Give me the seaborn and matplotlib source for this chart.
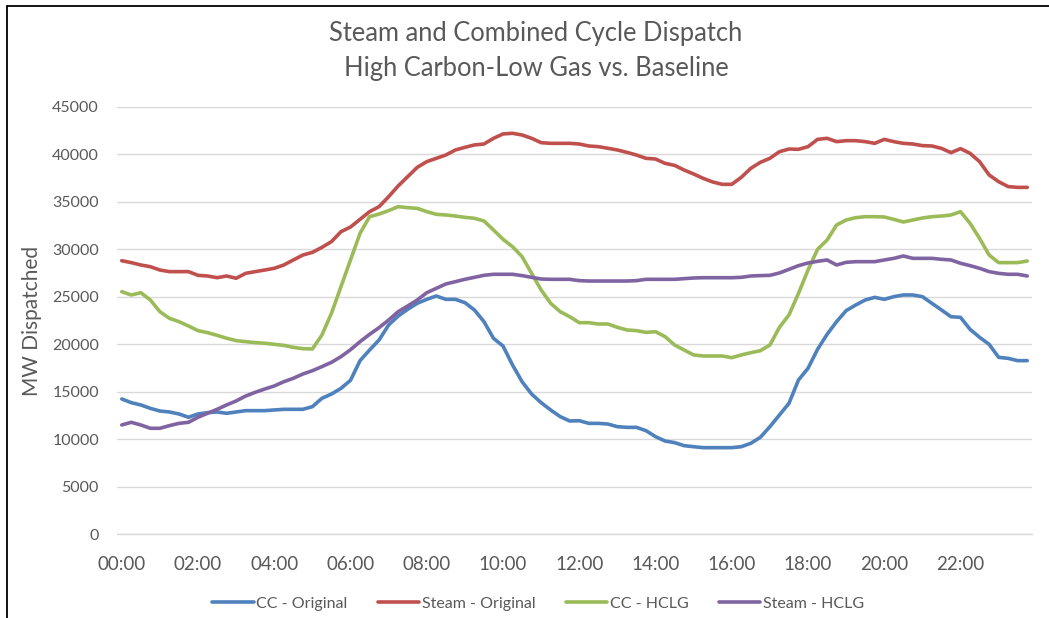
import numpy as np
import pandas as pd
import matplotlib
matplotlib.use("Agg")
import matplotlib.pyplot as plt
import seaborn as sns
from matplotlib.lines import Line2D

# ---------------- data (15-minute intervals, 00:00 .. 23:45) ----------------
hours = np.arange(96) * 0.25

cc_original = [
    14230, 13840, 13600, 13240, 12960, 12860, 12650, 12300, 12650, 12790, 12860, 12720,
    12860, 13000, 13000, 13000, 13070, 13140, 13140, 13140, 13420, 14300, 14750, 15350,
    16200, 18270, 19390, 20450, 22030, 22970, 23680, 24310, 24730, 25080, 24730, 24730,
    24380, 23610, 22380, 20620, 19810, 17810, 16050, 14750, 13840, 13070, 12370, 11910,
    11940, 11660, 11660, 11590, 11310, 11240, 11240, 10890, 10260, 9800, 9630, 9310,
    9200, 9100, 9100, 9100, 9100, 9200, 9560, 10190, 11310, 12540, 13770, 16230,
    17460, 19460, 21040, 22380, 23540, 24130, 24660, 24940, 24730, 25010, 25190, 25190,
    25010, 24310, 23610, 22900, 22830, 21570, 20730, 19990, 18620, 18510, 18270, 18270,
]

steam_original = [
    28800, 28600, 28350, 28170, 27820, 27650, 27650, 27650, 27260, 27190, 27010, 27190,
    26950, 27470, 27650, 27820, 28000, 28350, 28880, 29400, 29680, 30210, 30810, 31860,
    32350, 33160, 33970, 34500, 35550, 36680, 37660, 38640, 39240, 39590, 39940, 40470,
    40750, 41000, 41100, 41700, 42160, 42230, 42050, 41700, 41240, 41170, 41170, 41170,
    41100, 40890, 40820, 40650, 40470, 40220, 39940, 39590, 39520, 39060, 38850, 38360,
    37940, 37480, 37100, 36850, 36850, 37590, 38540, 39170, 39590, 40290, 40570, 40540,
    40820, 41590, 41700, 41350, 41450, 41450, 41350, 41170, 41590, 41350, 41170, 41100,
    40930, 40890, 40640, 40190, 40610, 40120, 39240, 37840, 37130, 36610, 36530, 36530,
]

cc_hclg = [
    25540, 25190, 25430, 24660, 23430, 22730, 22380, 21920, 21430, 21220, 20940, 20630,
    20380, 20270, 20170, 20100, 19990, 19880, 19670, 19530, 19500, 20970, 23260, 26070,
    28880, 31690, 33440, 33720, 34080, 34500, 34390, 34320, 33970, 33690, 33620, 33510,
    33370, 33270, 32990, 32040, 31060, 30280, 29230, 27470, 25720, 24310, 23430, 22900,
    22270, 22270, 22130, 22130, 21780, 21500, 21430, 21250, 21320, 20800, 19920, 19390,
    18870, 18760, 18760, 18760, 18580, 18870, 19110, 19320, 19920, 21780, 23080, 25360,
    27820, 30000, 30980, 32570, 33090, 33340, 33440, 33440, 33410, 33160, 32880, 33090,
    33300, 33440, 33510, 33620, 33970, 32740, 31160, 29400, 28600, 28600, 28600, 28770,
]

steam_hclg = [
    11490, 11770, 11490, 11140, 11140, 11420, 11660, 11770, 12300, 12720, 13140, 13600,
    14020, 14540, 14930, 15280, 15600, 16050, 16410, 16860, 17210, 17640, 18090, 18690,
    19420, 20270, 21040, 21750, 22550, 23430, 24030, 24660, 25430, 25890, 26350, 26590,
    26840, 27050, 27260, 27370, 27370, 27370, 27230, 27050, 26870, 26840, 26840, 26840,
    26700, 26660, 26660, 26660, 26660, 26660, 26700, 26840, 26840, 26840, 26840, 26910,
    26980, 27010, 27010, 27010, 27010, 27050, 27190, 27230, 27260, 27510, 27890, 28280,
    28560, 28740, 28880, 28350, 28630, 28700, 28700, 28700, 28880, 29050, 29300, 29050,
    29050, 29050, 28950, 28880, 28530, 28280, 28000, 27650, 27470, 27370, 27370, 27190,
]

series_names = ["CC - Original", "Steam - Original", "CC - HCLG", "Steam - HCLG"]
colors = ["#4F81BD", "#C0504D", "#9BBB59", "#8064A2"]
tick_hours = list(range(0, 24, 2))
tick_labels = [f"{h:02d}:00" for h in tick_hours]
y_ticks = list(range(0, 45001, 5000))
title_line1 = "Steam and Combined Cycle Dispatch"
title_line2 = "High Carbon-Low Gas vs. Baseline"
y_label = "MW Dispatched"

df = pd.DataFrame({
    "hour": np.tile(hours, 4),
    "mw": np.concatenate([cc_original, steam_original, cc_hclg, steam_hclg]),
    "series": np.repeat(series_names, len(hours)),
})

# ---------------- style ----------------
sns.set_theme(style="white")
plt.rcParams["font.family"] = ["Lato", "DejaVu Sans"]
txt = "#595959"

W, H = 1049, 618
fig = plt.figure(figsize=(W / 100, H / 100), dpi=100)
ax = fig.add_axes([117 / W, 1 - 534 / H, (1032 - 117) / W, (534 - 107) / H])

sns.lineplot(data=df, x="hour", y="mw", hue="series", hue_order=series_names,
             palette=colors, linewidth=2.6, ax=ax, legend=True)

ax.set_xlim(-0.125, 23.875)
ax.set_ylim(0, 45000)
ax.set_xticks(tick_hours)
ax.set_xticklabels(tick_labels)
ax.set_yticks(y_ticks)
ax.set_yticklabels([str(v) for v in y_ticks])
ax.tick_params(axis="x", length=0, pad=16, labelsize=13.5, labelcolor=txt)
ax.tick_params(axis="y", length=0, pad=13, labelsize=11.5, labelcolor=txt)
ax.yaxis.grid(True, color="#D9D9D9", linewidth=1)
ax.set_axisbelow(True)
for s in ["top", "right", "left"]:
    ax.spines[s].set_visible(False)
ax.spines["bottom"].set_color("#D9D9D9")
ax.spines["bottom"].set_linewidth(1)

ax.set_xlabel("")
ax.set_ylabel(y_label, fontsize=15, color=txt)
ax.yaxis.set_label_coords((42 - 117) / 915, 0.5)

sns.move_legend(ax, "center", bbox_to_anchor=((538 - 117) / 915, (534 - 604) / 427),
                ncol=4, title=None, frameon=False, fontsize=11.5,
                handlelength=2.6, handletextpad=0.15, columnspacing=1.9)
for t in ax.get_legend().get_texts():
    t.set_color(txt)
for l in ax.get_legend().get_lines():
    l.set_linewidth(2.6)

fig.text(536 / W, 1 - 41 / H, title_line1, ha="center", va="baseline",
         fontsize=18.4, color=txt)
fig.text(536 / W, 1 - 76 / H, title_line2, ha="center", va="baseline",
         fontsize=18.4, color=txt)

# frame lines of the original screenshot (top and left)
fig.add_artist(Line2D([7 / W, 1], [1 - 6 / H, 1 - 6 / H], transform=fig.transFigure,
                      color="black", linewidth=1.3))
fig.add_artist(Line2D([7 / W, 7 / W], [0, 1 - 6 / H], transform=fig.transFigure,
                      color="black", linewidth=1.3))

fig.savefig("out.png", dpi=100, facecolor="white")
